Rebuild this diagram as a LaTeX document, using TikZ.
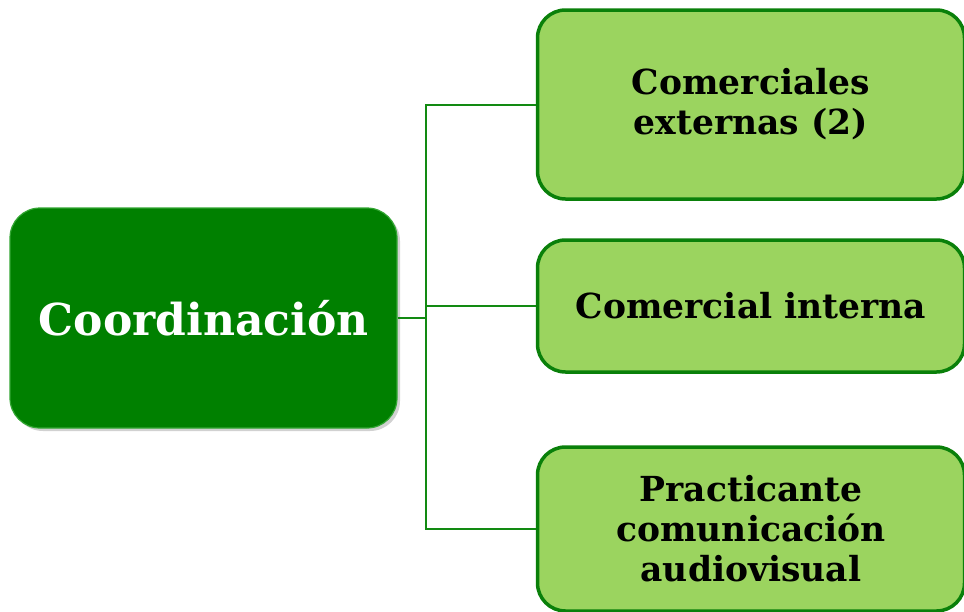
\documentclass[tikz,border=0pt]{standalone}
\usepackage{fontspec}
\setmainfont{DejaVu Serif}
\begin{document}
\begin{tikzpicture}[x=1pt,y=-1pt,
  mainbox/.style={draw=black!25!green!60!gray, line width=1.2pt, fill=mainfill, rounded corners=30pt, minimum width=387pt, minimum height=220pt, inner sep=0pt, text=white, font=\fontsize{44}{50}\selectfont\bfseries},
  subbox/.style={draw=boxline, line width=3.5pt, fill=subfill, rounded corners=28pt, minimum width=427pt, inner sep=0pt, align=center, font=\fontsize{34.5}{40}\selectfont\bfseries},
  link/.style={draw=linkcol, line width=2pt}]
\definecolor{mainfill}{HTML}{008000}
\definecolor{subfill}{HTML}{9BD45F}
\definecolor{boxline}{HTML}{0A800A}
\definecolor{linkcol}{HTML}{128A12}
\useasboundingbox (0,0) rectangle (964,611);
\fill[black, opacity=0.18, rounded corners=30pt] (13,211) rectangle (400,431);
\node[mainbox] (coord) at (203.5,318) {Coordinación};
\node[subbox, minimum height=189pt] (b1) at (751,104.5) {Comerciales\\externas (2)};
\node[subbox, minimum height=132pt] (b2) at (751,306) {Comercial interna};
\node[subbox, minimum height=164pt] (b3) at (751,529) {Practicante\\comunicación\\audiovisual};
\coordinate (j) at (426,318);
\draw[link] (coord.east) -- (j);
\draw[link] (b1.west) -| (426,104.5) |- (b3.west);
\draw[link] (b2.west) -- (426,306);
\end{tikzpicture}
\end{document}
